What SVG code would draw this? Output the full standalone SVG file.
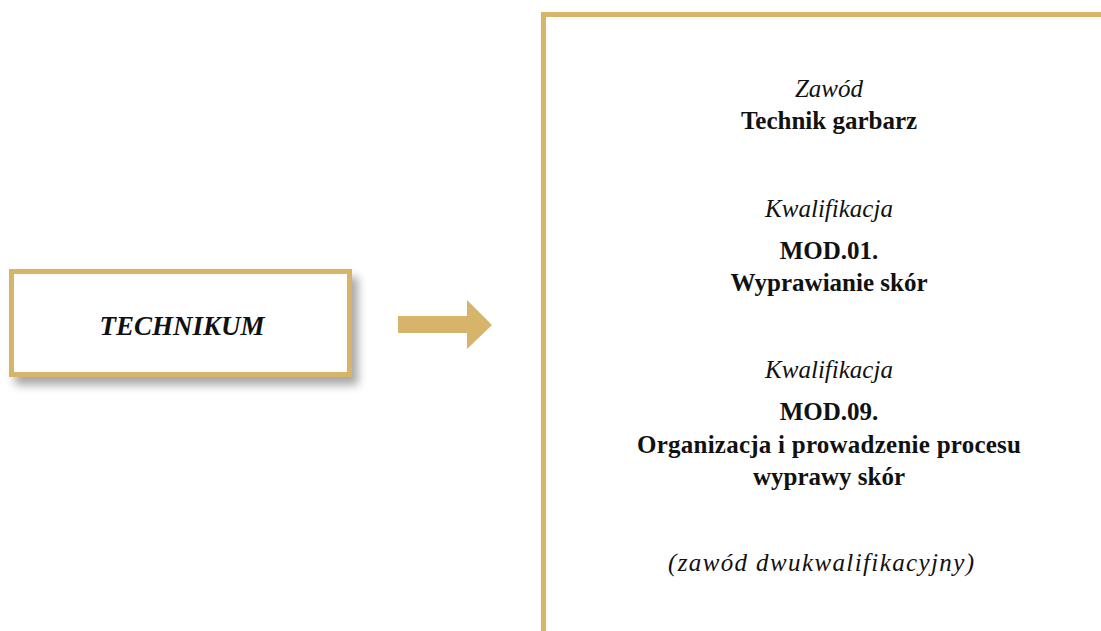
<svg xmlns="http://www.w3.org/2000/svg" width="1101" height="631" viewBox="0 0 1101 631">
<style>
.gold{fill:#D6B46A}
.t{font-family:"Liberation Serif","Times New Roman",serif;font-size:25px;fill:#111;text-anchor:middle}
.i{font-style:italic}
.b{font-weight:bold}
</style>
<defs>
<filter id="sh" x="-10%" y="-20%" width="125%" height="160%">
<feGaussianBlur in="SourceAlpha" stdDeviation="5"/>
<feOffset dx="6" dy="8"/>
<feComponentTransfer><feFuncA type="linear" slope="0.35"/></feComponentTransfer>
<feMerge><feMergeNode/><feMergeNode in="SourceGraphic"/></feMerge>
</filter>
</defs>
<rect width="1101" height="631" fill="#fff"/>
<g id="technikum">
<rect x="11.5" y="271.5" width="338" height="103" fill="#fff" stroke="#D6B46A" stroke-width="5" filter="url(#sh)"/>
<text class="t i b" x="182" y="335" style="font-size:27px">TECHNIKUM</text>
</g>
<g id="connectors">
<polygon class="gold" points="398,316 467,316 467,300 492,325 467,349 467,333 398,333"/>
</g>
<g id="panel">
<path d="M543.5,631 V14.5 H1101" fill="none" stroke="#D6B46A" stroke-width="5"/>
<text class="t i" x="829" y="97">Zawód</text>
<text class="t b" x="829" y="129">Technik garbarz</text>
<text class="t i" x="829" y="217">Kwalifikacja</text>
<text class="t b" x="829" y="259">MOD.01.</text>
<text class="t b" x="829" y="291">Wyprawianie skór</text>
<text class="t i" x="829" y="378">Kwalifikacja</text>
<text class="t b" x="829" y="420">MOD.09.</text>
<text class="t b" x="829" y="453" textLength="384" lengthAdjust="spacing">Organizacja i prowadzenie procesu</text>
<text class="t b" x="829" y="485">wyprawy skór</text>
<text class="t i" x="821" y="571" textLength="306" lengthAdjust="spacing">(zawód dwukwalifikacyjny)</text>
</g>
</svg>
